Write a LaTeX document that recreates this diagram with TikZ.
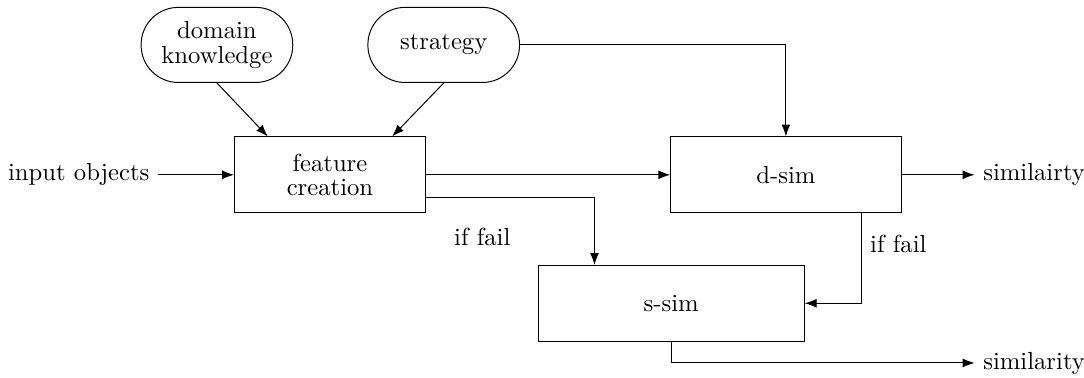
\documentclass[tikz,border=0pt]{standalone}
\usepackage{tikz}
\usetikzlibrary{arrows.meta,positioning,calc}

\begin{document}
\begin{tikzpicture}[>=Latex, every node/.style={align=center, font=\fontsize{10}{9.8}\selectfont},
  box/.style={draw, minimum width=2.72cm, minimum height=1.08cm},
  pill/.style={draw, rounded corners=0.53cm, minimum width=2.16cm, minimum height=1.07cm}]
  \useasboundingbox (0,0) rectangle (15.44,5.37);
  \node[box] (feature) at (4.70,2.88) {feature\\creation};
  \node[box, minimum width=3.28cm, right=3.48cm of feature] (dsim) {d-sim};
  \node[box, minimum width=3.79cm] (ssim) at (9.56,1.05) {s-sim};
  \node[pill] (domain) at (3.09,4.73) {domain\\knowledge};
  \node[pill] (strategy) at (6.32,4.73) {strategy};
  \node[left=1.08cm of feature] (input) {input objects};
  \node[right=1.04cm of dsim] (simA) {similairty};
  \node (simB) at (simA |- 0,0.2) {similarity};
  \node (failA) at (6.87,2.0) {if fail};
  \draw[->] (input) -- (feature);
  \draw[->] (feature) -- (dsim);
  \draw[->] (domain.south) -- ([xshift=0.48cm]feature.north west);
  \draw[->] (strategy.south) -- ([xshift=-0.48cm]feature.north east);
  \draw[->] (strategy.east) -| (dsim.north);
  \draw[->] ([yshift=-0.33cm]feature.east) -| ([xshift=0.81cm]ssim.north west);
  \draw[->] ([xshift=-0.57cm]dsim.south east) |- node[right, pos=0.17] (failB) {if fail} (ssim.east);
  \draw[->] (dsim) -- (simA);
  \draw[->] (ssim.south) |- (simB);
\end{tikzpicture}
\end{document}
